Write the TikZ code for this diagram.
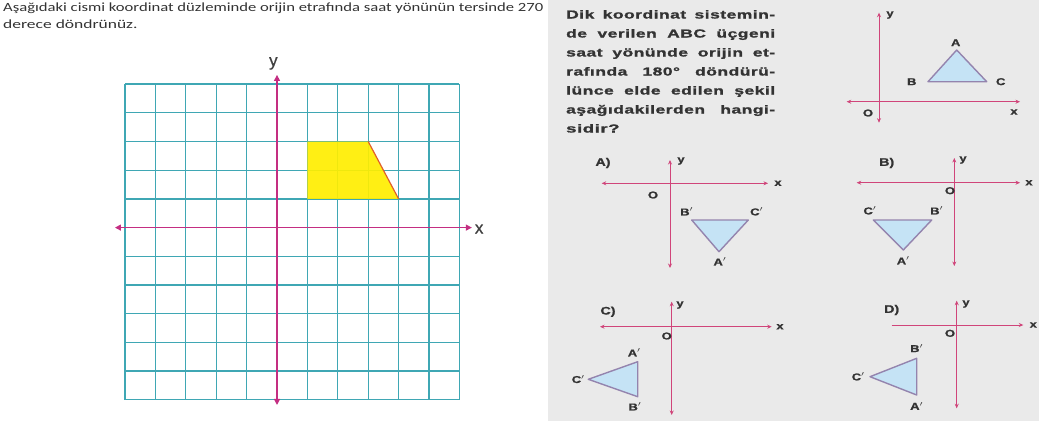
\documentclass[tikz,border=0pt]{standalone}
\usepackage{fontspec}
\setmainfont{Carlito}
\newfontfamily\qsans{Liberation Sans}[LetterSpace=3, FakeBold=1.2]
\newfontfamily\lsans{Liberation Sans}[FakeBold=0.8]
\usetikzlibrary{arrows.meta}

\definecolor{gridc}{HTML}{3FA7B4}
\definecolor{axisc}{HTML}{C42E82}
\definecolor{shapec}{HTML}{FFEE00}
\definecolor{edgec}{HTML}{E0602A}
\definecolor{panelc}{HTML}{EAEAEA}
\definecolor{pinkc}{HTML}{D0457A}
\definecolor{trifill}{HTML}{C5E3F5}
\definecolor{tric}{HTML}{9484AE}
\definecolor{labc}{HTML}{333333}

% horizontal stretch, the scan is wider than it is tall
\newcommand\wide[2][1.3]{\scalebox{#1}[1]{#2}}

\tikzset{
  gridline/.style={gridc, line width=1.25pt},
  bigaxis/.style={axisc, line width=1.3pt, {Triangle[length=6pt,width=6pt]}-{Triangle[length=6pt,width=6pt]}},
  smallaxis/.style={pinkc, line width=1pt, {Stealth[length=4.5pt,width=4pt]}-{Stealth[length=4.5pt,width=4pt]}},
  halfaxis/.style={pinkc, line width=1pt, -{Stealth[length=4.5pt,width=4pt]}},
  tri/.style={draw=tric, fill=trifill, line width=1.4pt, line join=round},
  lbl/.style={font=\lsans\bfseries\fontsize{10}{10}\selectfont, text=labc, inner sep=0pt},
  optlbl/.style={font=\lsans\bfseries\fontsize{11}{11}\selectfont, text=labc, inner sep=0pt},
  qline/.style={anchor=base west, inner sep=0pt, text=labc, font=\qsans\bfseries\fontsize{11.6}{12}\selectfont},
  topline/.style={anchor=base west, inner sep=0pt, text=black!80, font=\fontsize{12.5}{13}\selectfont}
}

\begin{document}
\begin{tikzpicture}[x=1pt, y=-1pt]
  \useasboundingbox (0,0) rectangle (1039,421);

  % question text, left
  \node[topline] (t1) at (3,11.7) {\wide[1.33]{Aşağıdaki cismi koordinat düzleminde orijin etrafında saat yönünün tersinde 270}};
  \node[topline] (t2) at (3,28.3) {\wide[1.4]{derece döndrünüz.}};

  % grid with the yellow shape
  \begin{scope}[shift={(277,227.6)}, x=30.4pt, y=28.7pt]
    \foreach \i in {-5,...,6}
      \draw[gridline] (\i,-6) -- (\i,5);
    \foreach \j in {-6,...,5}
      \draw[gridline] (-5,\j) -- (6,\j);
    \fill[shapec, opacity=0.92] (1,1) -- (1,3) -- (3,3) -- (4,1) -- cycle;
    \draw[edgec, line width=1.2pt] (3,3) -- (4,1);

    \coordinate (xl) at (-5.33,0);
    \coordinate (xr) at (6.41,0);
    \coordinate (yt) at (0,5.32);
    \coordinate (yb) at (0,-6.18);
    \draw[bigaxis] (xl) -- (xr);
    \draw[bigaxis] (yb) -- (yt);
    \node[font=\lsans\fontsize{17}{17}\selectfont, text=black!75] (ylab) at (-0.12,5.72) {y};
    \node[font=\lsans\fontsize{17}{17}\selectfont, text=black!75] (xlab) at (6.65,-0.05) {x};
  \end{scope}

  % scanned page on the right
  \fill[panelc] (548,0) rectangle (1039,421);

  \foreach \txt [count=\k] in {{Dik koordinat sistemin-},{de verilen ABC üçgeni},{saat yönünde orijin et-},{rafında 180° döndürü-},{lünce elde edilen şekil},{aşağıdakilerden hangi-}}
    \node[qline] (q\k) at (566,{18.5+19*(\k-1)}) {\wide[1.5]{\makebox[139.3pt][s]{\txt}}};
  \node[qline] (q7) at (566,132.5) {\wide[1.6]{sidir?}};

  % given triangle
  \coordinate (oxl) at (846.7,101.7);
  \coordinate (oxr) at (1020,101.7);
  \coordinate (oyt) at (879,12.7);
  \coordinate (oyb) at (879,122.7);
  \draw[smallaxis] (oxl) -- (oxr);
  \draw[smallaxis] (oyb) -- (oyt);
  \node[lbl] (oy) at (890,15) {\wide{y}};
  \node[lbl] (ox) at (1014,112) {\wide{x}};
  \node[lbl] (oo) at (868,113) {\wide{O}};
  \coordinate (A) at (956.7,50);
  \coordinate (B) at (928,81.7);
  \coordinate (C) at (986.7,81.7);
  \draw[tri] (A) -- (B) -- (C) -- cycle;
  \node[lbl] (la) at (955.7,42.7) {\wide{A}};
  \node[lbl] (lb) at (911.7,81.7) {\wide{B}};
  \node[lbl] (lc) at (1000.7,81.7) {\wide{C}};

  % option A
  \node[optlbl] (oa) at (603,163) {\wide{A)}};
  \coordinate (axl) at (601.7,183.3);
  \coordinate (axr) at (768,183.3);
  \coordinate (ayt) at (670,160);
  \coordinate (ayb) at (670,268);
  \draw[smallaxis] (axl) -- (axr);
  \draw[smallaxis] (ayb) -- (ayt);
  \node[lbl] (ay) at (681,161) {\wide{y}};
  \node[lbl] (ax) at (778,183.3) {\wide{x}};
  \node[lbl] (ao) at (653,195) {\wide{O}};
  \coordinate (aB) at (691.7,220);
  \coordinate (aC) at (748.3,220);
  \coordinate (aA) at (719,251.7);
  \draw[tri] (aA) -- (aB) -- (aC) -- cycle;
  \node[lbl] (laB) at (686.7,211.7) {\wide{B$'$}};
  \node[lbl] (laC) at (756.7,211.7) {\wide{C$'$}};
  \node[lbl] (laA) at (720,261.7) {\wide{A$'$}};

  % option B
  \node[optlbl] (ob) at (886.7,163) {\wide{B)}};
  \coordinate (bxl) at (856.7,182.7);
  \coordinate (bxr) at (1020,182.7);
  \coordinate (byt) at (954.3,158);
  \coordinate (byb) at (954.3,266);
  \draw[smallaxis] (bxl) -- (bxr);
  \draw[smallaxis] (byb) -- (byt);
  \node[lbl] (by) at (963,160) {\wide{y}};
  \node[lbl] (bx) at (1029,182.7) {\wide{x}};
  \node[lbl] (bo) at (950,190.7) {\wide{O}};
  \coordinate (bC) at (873.3,220);
  \coordinate (bB) at (931.7,220);
  \coordinate (bA) at (903.3,250);
  \draw[tri] (bA) -- (bB) -- (bC) -- cycle;
  \node[lbl] (lbC) at (870,210.7) {\wide{C$'$}};
  \node[lbl] (lbB) at (936.7,210.7) {\wide{B$'$}};
  \node[lbl] (lbA) at (903.3,260.7) {\wide{A$'$}};

  % option C
  \node[optlbl] (oc) at (608,311.7) {\wide{C)}};
  \coordinate (cxl) at (600,326.7);
  \coordinate (cxr) at (771.7,326.7);
  \coordinate (cyt) at (671.7,301.7);
  \coordinate (cyb) at (671.7,415);
  \draw[smallaxis] (cxl) -- (cxr);
  \draw[smallaxis] (cyb) -- (cyt);
  \node[lbl] (cy) at (680,305) {\wide{y}};
  \node[lbl] (cx) at (780,326.7) {\wide{x}};
  \node[lbl] (co) at (666.7,336) {\wide{O}};
  \coordinate (cA) at (637.7,361.7);
  \coordinate (cB) at (637.7,396.7);
  \coordinate (cC) at (588.3,379.3);
  \draw[tri] (cA) -- (cB) -- (cC) -- cycle;
  \node[lbl] (lcA) at (634.3,352.7) {\wide{A$'$}};
  \node[lbl] (lcB) at (635,406.7) {\wide{B$'$}};
  \node[lbl] (lcC) at (578.3,379.3) {\wide{C$'$}};

  % option D
  \node[optlbl] (od) at (891.7,310) {\wide{D)}};
  \coordinate (dxl) at (891.7,325);
  \coordinate (dxr) at (1023.3,325);
  \coordinate (dyt) at (956.7,300.7);
  \coordinate (dyb) at (956.7,408.3);
  \draw[halfaxis] (dxl) -- (dxr);
  \draw[smallaxis] (dyb) -- (dyt);
  \node[lbl] (dy) at (966,304) {\wide{y}};
  \node[lbl] (dx) at (1033.3,325) {\wide{x}};
  \node[lbl] (do) at (950,333.3) {\wide{O}};
  \coordinate (dB) at (916.7,358.3);
  \coordinate (dA) at (916.7,395);
  \coordinate (dC) at (870,376.7);
  \draw[tri] (dA) -- (dB) -- (dC) -- cycle;
  \node[lbl] (ldB) at (916.7,348.3) {\wide{B$'$}};
  \node[lbl] (ldA) at (916.7,406) {\wide{A$'$}};
  \node[lbl] (ldC) at (858.3,376.7) {\wide{C$'$}};
\end{tikzpicture}
\end{document}
